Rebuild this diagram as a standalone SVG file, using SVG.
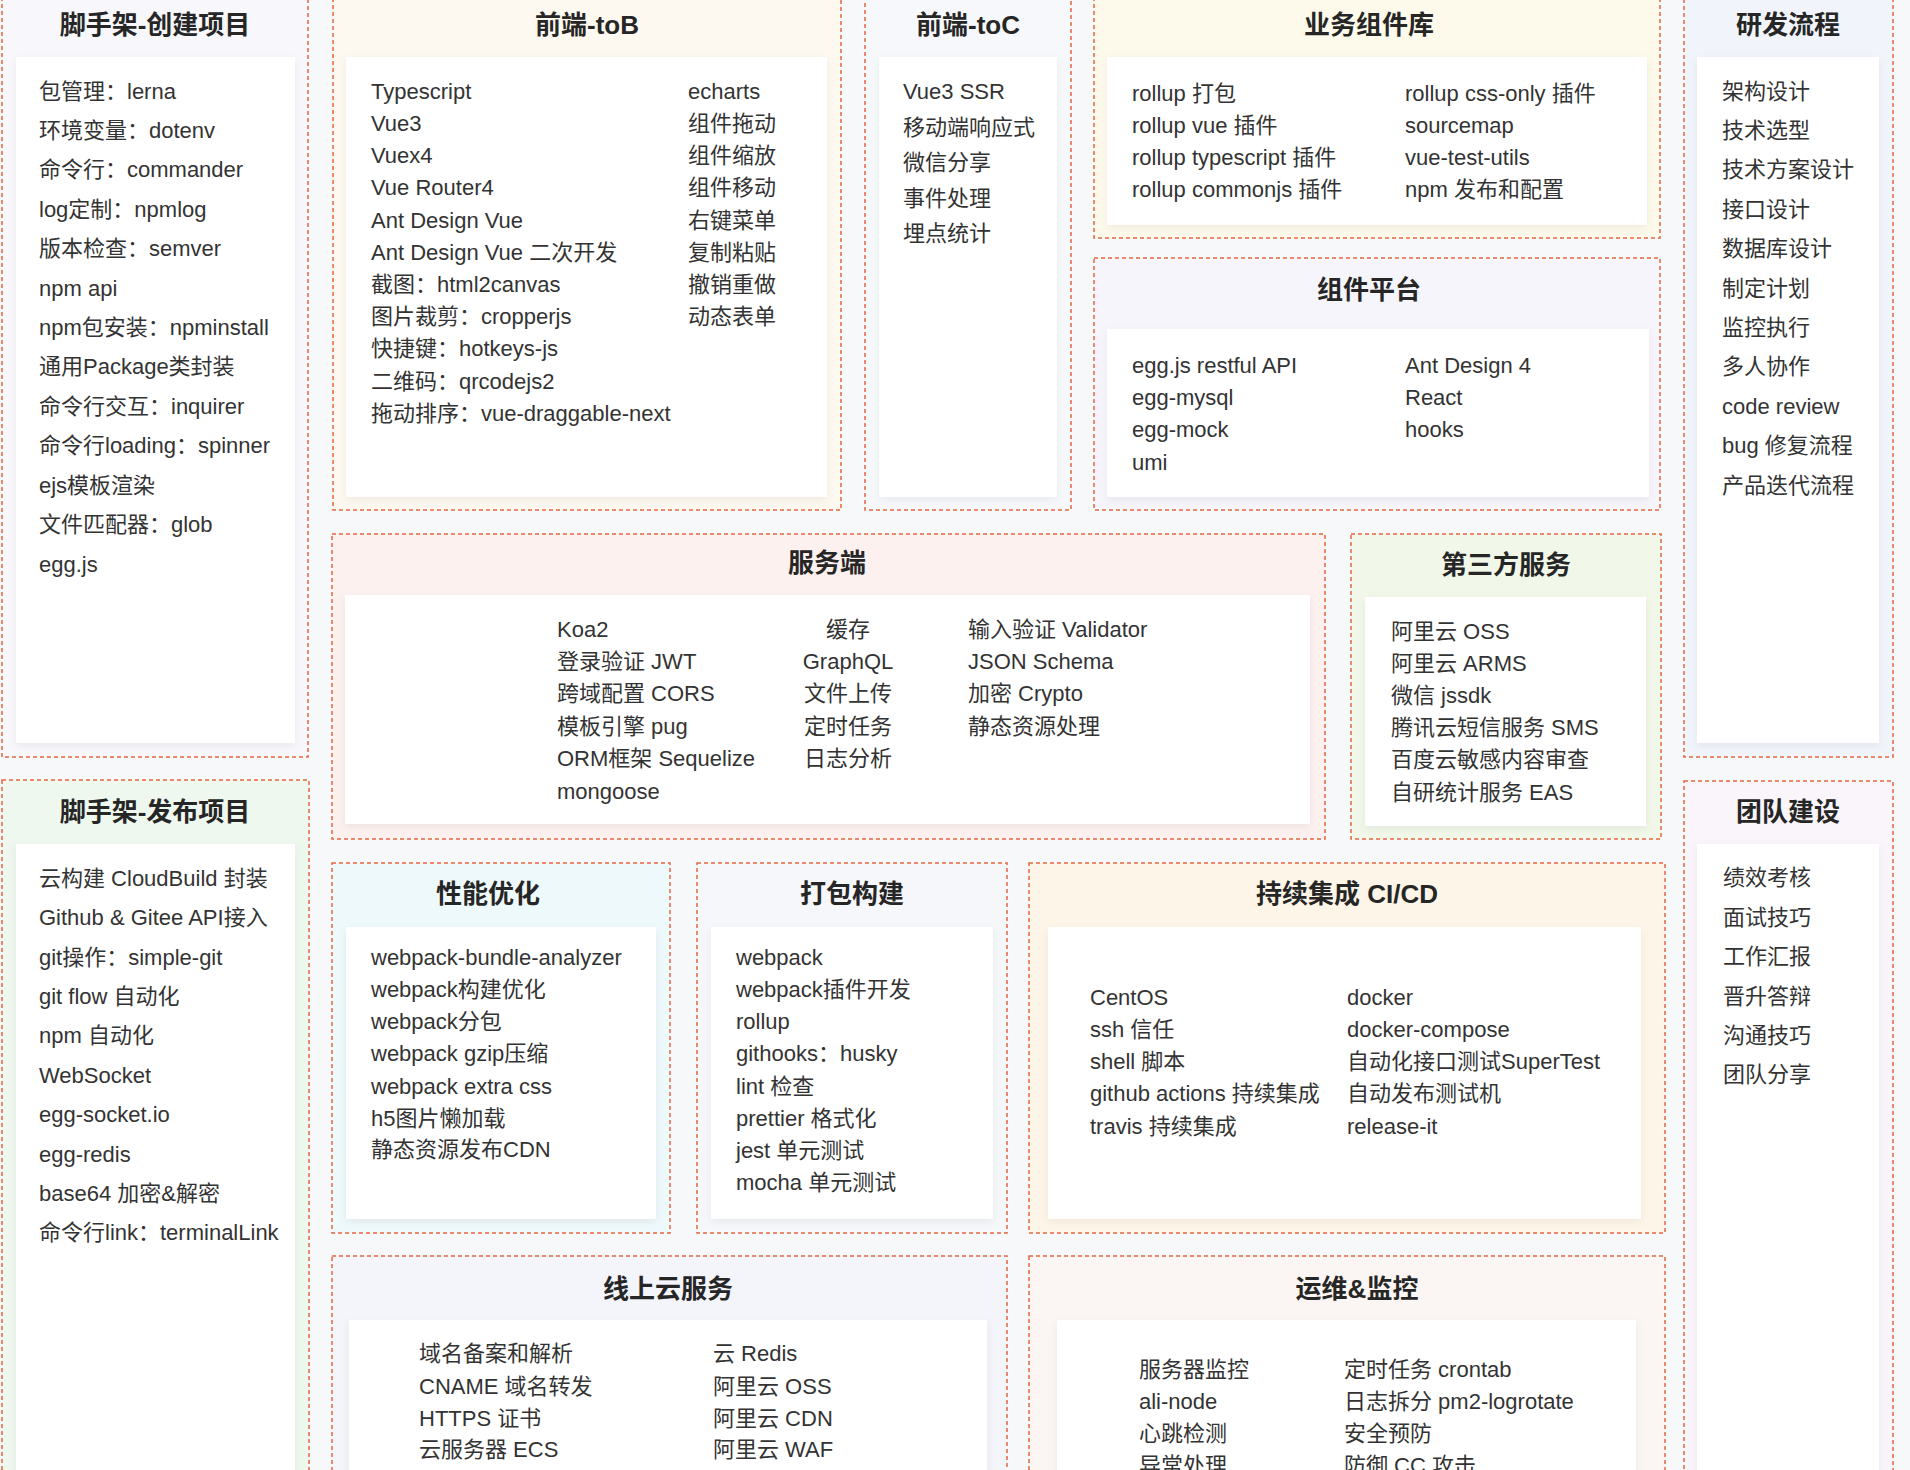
<svg xmlns="http://www.w3.org/2000/svg" width="1910" height="1470" viewBox="0 0 1910 1470">
<style>
.panel{stroke:#e3673f;stroke-width:1.5;stroke-dasharray:4 3}
.box{fill:#ffffff;filter:url(#sh)}
.t{font-family:"Liberation Sans","Noto Sans CJK SC",sans-serif;font-size:26px;font-weight:bold;fill:#262626;text-anchor:middle}
.i{font-family:"Liberation Sans","Noto Sans CJK SC",sans-serif;font-size:22px;fill:#333333}
.m{text-anchor:middle}
</style>
<defs>
<filter id="sh" x="-5%" y="-5%" width="110%" height="115%">
<feDropShadow dx="0" dy="3" stdDeviation="4" flood-color="#000000" flood-opacity="0.06"/>
</filter>
</defs>
<rect x="0" y="0" width="1910" height="1470" fill="#f7f8fa"/>
<g id="connectors"/>

<g id="cli-create">
<rect class="panel" x="2" y="-10" width="306" height="767" fill="#f7f7fc"/>
<text class="t" x="155" y="34">脚手架-创建项目</text>
<rect class="box" x="16" y="57" width="279" height="686"/>
<text class="i" x="39" y="99">包管理：lerna</text>
<text class="i" x="39" y="138">环境变量：dotenv</text>
<text class="i" x="39" y="177">命令行：commander</text>
<text class="i" x="39" y="217">log定制：npmlog</text>
<text class="i" x="39" y="256">版本检查：semver</text>
<text class="i" x="39" y="296">npm api</text>
<text class="i" x="39" y="335">npm包安装：npminstall</text>
<text class="i" x="39" y="374">通用Package类封装</text>
<text class="i" x="39" y="414">命令行交互：inquirer</text>
<text class="i" x="39" y="453">命令行loading：spinner</text>
<text class="i" x="39" y="493">ejs模板渲染</text>
<text class="i" x="39" y="532">文件匹配器：glob</text>
<text class="i" x="39" y="572">egg.js</text>
</g>

<g id="frontend-tob">
<rect class="panel" x="333" y="-10" width="508" height="520" fill="#fdf9f0"/>
<text class="t" x="587" y="34">前端-toB</text>
<rect class="box" x="346" y="57" width="481" height="440"/>
<text class="i" x="371" y="99">Typescript</text>
<text class="i" x="371" y="131">Vue3</text>
<text class="i" x="371" y="163">Vuex4</text>
<text class="i" x="371" y="195">Vue Router4</text>
<text class="i" x="371" y="228">Ant Design Vue</text>
<text class="i" x="371" y="260">Ant Design Vue 二次开发</text>
<text class="i" x="371" y="292">截图：html2canvas</text>
<text class="i" x="371" y="324">图片裁剪：cropperjs</text>
<text class="i" x="371" y="356">快捷键：hotkeys-js</text>
<text class="i" x="371" y="389">二维码：qrcodejs2</text>
<text class="i" x="371" y="421">拖动排序：vue-draggable-next</text>
<text class="i" x="688" y="99">echarts</text>
<text class="i" x="688" y="131">组件拖动</text>
<text class="i" x="688" y="163">组件缩放</text>
<text class="i" x="688" y="195">组件移动</text>
<text class="i" x="688" y="228">右键菜单</text>
<text class="i" x="688" y="260">复制粘贴</text>
<text class="i" x="688" y="292">撤销重做</text>
<text class="i" x="688" y="324">动态表单</text>
</g>

<g id="frontend-toc">
<rect class="panel" x="865" y="-10" width="206" height="520" fill="#f7f8fb"/>
<text class="t" x="968" y="34">前端-toC</text>
<rect class="box" x="879" y="57" width="178" height="440"/>
<text class="i" x="903" y="99">Vue3 SSR</text>
<text class="i" x="903" y="135">移动端响应式</text>
<text class="i" x="903" y="170">微信分享</text>
<text class="i" x="903" y="206">事件处理</text>
<text class="i" x="903" y="241">埋点统计</text>
</g>

<g id="biz-components">
<rect class="panel" x="1094" y="-10" width="566" height="248" fill="#fdf9eb"/>
<text class="t" x="1369" y="34">业务组件库</text>
<rect class="box" x="1107" y="57" width="540" height="168"/>
<text class="i" x="1132" y="101">rollup 打包</text>
<text class="i" x="1132" y="133">rollup vue 插件</text>
<text class="i" x="1132" y="165">rollup typescript 插件</text>
<text class="i" x="1132" y="197">rollup commonjs 插件</text>
<text class="i" x="1405" y="101">rollup css-only 插件</text>
<text class="i" x="1405" y="133">sourcemap</text>
<text class="i" x="1405" y="165">vue-test-utils</text>
<text class="i" x="1405" y="197">npm 发布和配置</text>
</g>

<g id="component-platform">
<rect class="panel" x="1094" y="258" width="566" height="252" fill="#f6f5fb"/>
<text class="t" x="1369" y="299">组件平台</text>
<rect class="box" x="1107" y="329" width="542" height="168"/>
<text class="i" x="1132" y="373">egg.js restful API</text>
<text class="i" x="1132" y="405">egg-mysql</text>
<text class="i" x="1132" y="437">egg-mock</text>
<text class="i" x="1132" y="470">umi</text>
<text class="i" x="1405" y="373">Ant Design 4</text>
<text class="i" x="1405" y="405">React</text>
<text class="i" x="1405" y="437">hooks</text>
</g>

<g id="dev-process">
<rect class="panel" x="1684" y="-10" width="209" height="767" fill="#f1f5fb"/>
<text class="t" x="1788" y="34">研发流程</text>
<rect class="box" x="1697" y="57" width="182" height="686"/>
<text class="i" x="1722" y="99">架构设计</text>
<text class="i" x="1722" y="138">技术选型</text>
<text class="i" x="1722" y="177">技术方案设计</text>
<text class="i" x="1722" y="217">接口设计</text>
<text class="i" x="1722" y="256">数据库设计</text>
<text class="i" x="1722" y="296">制定计划</text>
<text class="i" x="1722" y="335">监控执行</text>
<text class="i" x="1722" y="374">多人协作</text>
<text class="i" x="1722" y="414">code review</text>
<text class="i" x="1722" y="453">bug 修复流程</text>
<text class="i" x="1722" y="493">产品迭代流程</text>
</g>

<g id="server">
<rect class="panel" x="332" y="534" width="993" height="305" fill="#fcf1ee"/>
<text class="t" x="827" y="572">服务端</text>
<rect class="box" x="345" y="595" width="965" height="229"/>
<text class="i" x="557" y="637">Koa2</text>
<text class="i" x="557" y="669">登录验证 JWT</text>
<text class="i" x="557" y="701">跨域配置 CORS</text>
<text class="i" x="557" y="734">模板引擎 pug</text>
<text class="i" x="557" y="766">ORM框架 Sequelize</text>
<text class="i" x="557" y="799">mongoose</text>
<text class="i m" x="848" y="637">缓存</text>
<text class="i m" x="848" y="669">GraphQL</text>
<text class="i m" x="848" y="701">文件上传</text>
<text class="i m" x="848" y="734">定时任务</text>
<text class="i m" x="848" y="766">日志分析</text>
<text class="i" x="968" y="637">输入验证 Validator</text>
<text class="i" x="968" y="669">JSON Schema</text>
<text class="i" x="968" y="701">加密 Crypto</text>
<text class="i" x="968" y="734">静态资源处理</text>
</g>

<g id="third-party">
<rect class="panel" x="1351" y="534" width="310" height="305" fill="#f1f8ea"/>
<text class="t" x="1506" y="574">第三方服务</text>
<rect class="box" x="1365" y="597" width="281" height="229"/>
<text class="i" x="1391" y="639">阿里云 OSS</text>
<text class="i" x="1391" y="671">阿里云 ARMS</text>
<text class="i" x="1391" y="703">微信 jssdk</text>
<text class="i" x="1391" y="735">腾讯云短信服务 SMS</text>
<text class="i" x="1391" y="767">百度云敏感内容审查</text>
<text class="i" x="1391" y="800">自研统计服务 EAS</text>
</g>

<g id="cli-publish">
<rect class="panel" x="2" y="780" width="307" height="710" fill="#eff8ef"/>
<text class="t" x="155" y="821">脚手架-发布项目</text>
<rect class="box" x="16" y="844" width="279" height="646"/>
<text class="i" x="39" y="886">云构建 CloudBuild 封装</text>
<text class="i" x="39" y="925">Github &amp; Gitee API接入</text>
<text class="i" x="39" y="965">git操作：simple-git</text>
<text class="i" x="39" y="1004">git flow 自动化</text>
<text class="i" x="39" y="1043">npm 自动化</text>
<text class="i" x="39" y="1083">WebSocket</text>
<text class="i" x="39" y="1122">egg-socket.io</text>
<text class="i" x="39" y="1162">egg-redis</text>
<text class="i" x="39" y="1201">base64 加密&amp;解密</text>
<text class="i" x="39" y="1240">命令行link：terminalLink</text>
</g>

<g id="team">
<rect class="panel" x="1684" y="781" width="209" height="709" fill="#faf5fb"/>
<text class="t" x="1788" y="821">团队建设</text>
<rect class="box" x="1697" y="844" width="182" height="646"/>
<text class="i" x="1723" y="885">绩效考核</text>
<text class="i" x="1723" y="925">面试技巧</text>
<text class="i" x="1723" y="964">工作汇报</text>
<text class="i" x="1723" y="1004">晋升答辩</text>
<text class="i" x="1723" y="1043">沟通技巧</text>
<text class="i" x="1723" y="1082">团队分享</text>
</g>

<g id="performance">
<rect class="panel" x="332" y="863" width="338" height="370" fill="#eef9fb"/>
<text class="t" x="488" y="903">性能优化</text>
<rect class="box" x="346" y="927" width="310" height="292"/>
<text class="i" x="371" y="965">webpack-bundle-analyzer</text>
<text class="i" x="371" y="997">webpack构建优化</text>
<text class="i" x="371" y="1029">webpack分包</text>
<text class="i" x="371" y="1061">webpack gzip压缩</text>
<text class="i" x="371" y="1094">webpack extra css</text>
<text class="i" x="371" y="1126">h5图片懒加载</text>
<text class="i" x="371" y="1157">静态资源发布CDN</text>
</g>

<g id="build">
<rect class="panel" x="697" y="863" width="310" height="370" fill="#f6f7fa"/>
<text class="t" x="852" y="903">打包构建</text>
<rect class="box" x="711" y="927" width="282" height="292"/>
<text class="i" x="736" y="965">webpack</text>
<text class="i" x="736" y="997">webpack插件开发</text>
<text class="i" x="736" y="1029">rollup</text>
<text class="i" x="736" y="1061">githooks：husky</text>
<text class="i" x="736" y="1094">lint 检查</text>
<text class="i" x="736" y="1126">prettier 格式化</text>
<text class="i" x="736" y="1158">jest 单元测试</text>
<text class="i" x="736" y="1190">mocha 单元测试</text>
</g>

<g id="cicd">
<rect class="panel" x="1029" y="863" width="636" height="370" fill="#fdf6e8"/>
<text class="t" x="1347" y="903">持续集成 CI/CD</text>
<rect class="box" x="1048" y="927" width="593" height="292"/>
<text class="i" x="1090" y="1005">CentOS</text>
<text class="i" x="1090" y="1037">ssh 信任</text>
<text class="i" x="1090" y="1069">shell 脚本</text>
<text class="i" x="1090" y="1101">github actions 持续集成</text>
<text class="i" x="1090" y="1134">travis 持续集成</text>
<text class="i" x="1347" y="1005">docker</text>
<text class="i" x="1347" y="1037">docker-compose</text>
<text class="i" x="1347" y="1069">自动化接口测试SuperTest</text>
<text class="i" x="1347" y="1101">自动发布测试机</text>
<text class="i" x="1347" y="1134">release-it</text>
</g>

<g id="cloud">
<rect class="panel" x="332" y="1256" width="675" height="234" fill="#f4f4fb"/>
<text class="t" x="668" y="1298">线上云服务</text>
<rect class="box" x="349" y="1320" width="638" height="170"/>
<text class="i" x="419" y="1361">域名备案和解析</text>
<text class="i" x="419" y="1394">CNAME 域名转发</text>
<text class="i" x="419" y="1426">HTTPS 证书</text>
<text class="i" x="419" y="1457">云服务器 ECS</text>
<text class="i" x="713" y="1361">云 Redis</text>
<text class="i" x="713" y="1394">阿里云 OSS</text>
<text class="i" x="713" y="1426">阿里云 CDN</text>
<text class="i" x="713" y="1457">阿里云 WAF</text>
</g>

<g id="ops">
<rect class="panel" x="1029" y="1256" width="636" height="234" fill="#fbf5f3"/>
<text class="t" x="1357" y="1298">运维&amp;监控</text>
<rect class="box" x="1057" y="1320" width="579" height="170"/>
<text class="i" x="1139" y="1377">服务器监控</text>
<text class="i" x="1139" y="1409">ali-node</text>
<text class="i" x="1139" y="1441">心跳检测</text>
<text class="i" x="1139" y="1473">异常处理</text>
<text class="i" x="1344" y="1377">定时任务 crontab</text>
<text class="i" x="1344" y="1409">日志拆分 pm2-logrotate</text>
<text class="i" x="1344" y="1441">安全预防</text>
<text class="i" x="1344" y="1473">防御 CC 攻击</text>
</g>
</svg>
